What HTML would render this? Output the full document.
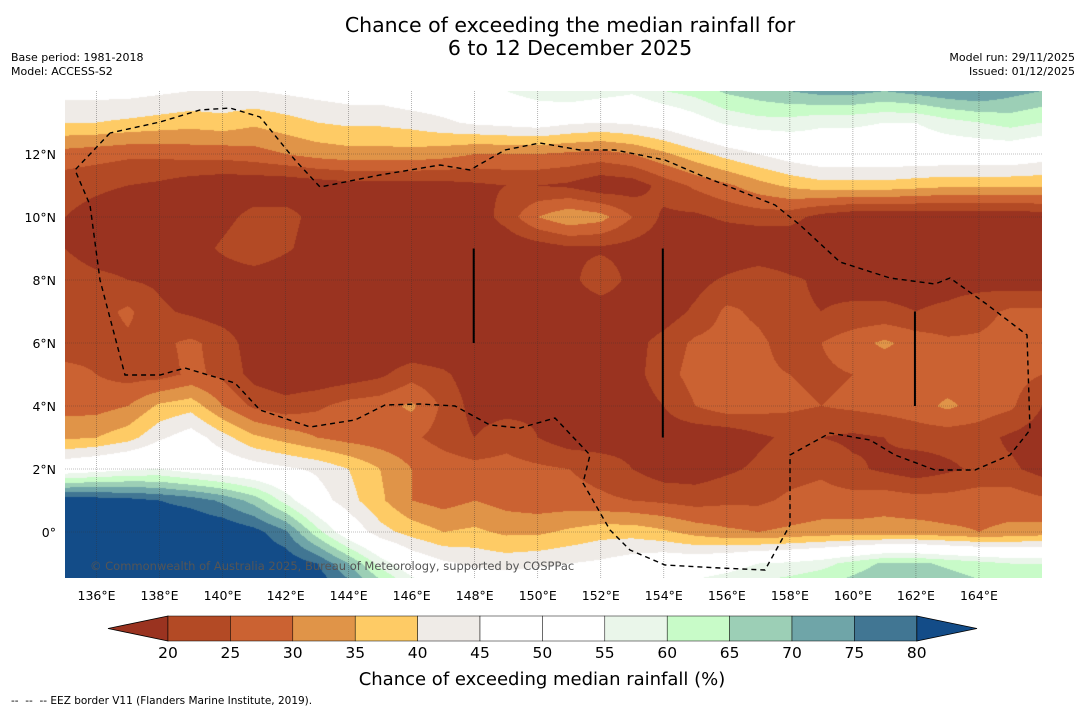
<!DOCTYPE html>
<html><head><meta charset="utf-8">
<style>
body{margin:0;background:#fff;width:1085px;height:713px;overflow:hidden;font-family:"DejaVu Sans","Liberation Sans",sans-serif;position:relative}
.t{position:absolute;white-space:nowrap}
svg text{font-family:"DejaVu Sans","Liberation Sans",sans-serif}
</style></head><body>
<div class="t" style="left:0;width:1140px;top:14px;text-align:center;font-size:20.5px;line-height:23px;color:#000">Chance of exceeding the median rainfall for<br>6 to 12 December 2025</div>
<div class="t" style="left:11px;top:51px;font-size:11px;line-height:14px">Base period: 1981-2018<br>Model: ACCESS-S2</div>
<div class="t" style="right:10px;top:51px;font-size:11px;line-height:14px;text-align:right">Model run: 29/11/2025<br>Issued: 01/12/2025</div>
<canvas id="map" width="977" height="487" style="position:absolute;left:65px;top:91px"></canvas>
<svg id="ov" width="1085" height="713" style="position:absolute;left:0;top:0"></svg>
<div class="t" style="left:11px;top:695px;font-size:10.5px">--&nbsp; --&nbsp; -- EEZ border V11 (Flanders Marine Institute, 2019).</div>
<script>
const lons=[135,136,137,138,139,140,141,142,143,144,145,146,147,148,149,150,151,152,153,154,155,156,157,158,159,160,161,162,163,164,165,166];
const lats=[14,13,12,11,10,9,8,7,6,5,4,3,2,1,0,-1,-2];
const r14=[47,47,47,46,45,45,45,46,47,48,48,50,50,52,55,58,60,58,56,60,62,66,68,70,72,72,70,72,74,75,72,70];
const r13=[40,40,39,38,37,38,36,38,40,41,41,42,44,46,47,48,46,45,46,48,52,56,58,58,56,56,55,55,58,60,62,60];
const r12=[28,27,26,26,27,27,28,30,32,33,33,33,32,30,30,30,29,28,30,34,38,42,45,48,50,50,50,50,50,50,50,48];
const r11=[22,21,20,19,17,16,16,16,17,18,18,18,18,19,20,20,19,16,17,22,26,29,33,36,38,38,38,37,36,36,36,36];
const r10=[20,18,16,16,16,18,22,22,18,16,16,16,16,17,22,30,34,32,25,19,19,21,22,22,18,16,16,16,16,16,16,17];
const r9=[20,18,18,16,17,21,25,21,17,15,15,15,16,16,16,17,19,19,18,17,16,15,15,15,15,15,15,15,15,15,15,16];
const r8=[22,21,20,19,17,16,16,15,15,15,15,15,15,16,16,17,18,24,18,17,18,21,24,21,19,18,18,18,18,18,17,17];
const r7=[22,23,26,21,19,17,16,15,15,15,15,15,15,15,16,16,16,16,16,17,21,26,24,21,20,21,21,20,21,23,26,26];
const r6=[22,23,24,24,26,23,17,15,15,15,15,15,15,15,15,15,15,16,18,22,26,27,26,23,25,28,31,28,26,26,27,27];
const r5=[27,25,23,23,26,24,18,16,16,17,19,23,21,17,17,18,17,16,18,23,27,28,26,25,24,25,26,26,27,29,27,25];
const r4=[28,28,30,36,38,30,24,22,24,27,28,31,24,18,18,19,17,16,17,20,25,28,27,26,25,26,27,28,31,28,26,20];
const r3=[34,35,38,44,48,42,36,33,30,28,27,26,23,20,23,20,17,17,18,17,16,16,19,21,20,19,20,22,22,22,19,17];
const r2=[50,52,54,55,52,50,48,46,44,40,35,30,28,27,27,26,25,23,20,17,17,19,21,23,24,21,19,17,19,21,21,18];
const r1=[84,83,82,80,78,74,68,58,48,42,36,30,28,30,28,27,27,26,25,24,23,24,24,26,27,27,28,27,27,28,28,26];
const r0=[86,86,86,86,86,85,82,76,62,50,42,38,35,36,34,34,36,38,38,36,33,31,30,31,32,32,32,32,31,30,31,32];
const rm1=[86,86,86,86,86,86,85,84,80,70,58,50,46,44,43,44,45,46,48,50,50,52,55,56,58,62,66,66,64,62,60,60];
const rm2=[86,86,86,86,86,86,86,86,86,80,72,62,56,52,52,52,54,55,56,58,60,62,64,66,68,70,72,72,70,68,66,66];
const grid=[r14,r13,r12,r11,r10,r9,r8,r7,r6,r5,r4,r3,r2,r1,r0,rm1,rm2];
const levels=[20,25,30,35,40,45,50,55,60,65,70,75,80];
const colors=["#9a3320","#b34a25","#cb6232","#e09448","#fecb65","#efebe7","#ffffff","#ffffff","#eaf6ea","#c8fbc8","#9ccfb6","#6fa5a8","#417693","#134c88"];
const lonTicks=[136,138,140,142,144,146,148,150,152,154,156,158,160,162,164];
const latTicks=[12,10,8,6,4,2,0];
const latTickLabels=["12°N","10°N","8°N","6°N","4°N","2°N","0°"];

const X0=65,Y0=91,W=977,H=487;
const lonMin=135,lonMax=166,latMax=14,latMin=-1.46;
const xOf=lon=>X0+(lon-lonMin)/(lonMax-lonMin)*W;
const yOf=lat=>Y0+(latMax-lat)/(latMax-latMin)*H;
function colIdx(v){let i=0;while(i<levels.length&&v>=levels[i])i++;return i;}
function hex(c){return [parseInt(c.slice(1,3),16),parseInt(c.slice(3,5),16),parseInt(c.slice(5,7),16)];}
const rgb=colors.map(hex);
function val(lon,lat){
  let fx=(lon-lons[0]),fy=(lats[0]-lat);
  fx=Math.max(0,Math.min(lons.length-1.001,fx));fy=Math.max(0,Math.min(lats.length-1.001,fy));
  const i=Math.floor(fx),j=Math.floor(fy),a=fx-i,b=fy-j;
  const g=grid;
  return (g[j][i]*(1-a)+g[j][i+1]*a)*(1-b)+(g[j+1][i]*(1-a)+g[j+1][i+1]*a)*b;
}
const cv=document.getElementById('map'),ctx=cv.getContext('2d');
const img=ctx.createImageData(W,H);
for(let py=0;py<H;py++){const lat=latMax-(py+0.5)/H*(latMax-latMin);
  for(let px=0;px<W;px++){const lon=lonMin+(px+0.5)/W*(lonMax-lonMin);
    const c=rgb[colIdx(val(lon,lat))];const k=(py*W+px)*4;
    img.data[k]=c[0];img.data[k+1]=c[1];img.data[k+2]=c[2];img.data[k+3]=255;}}
ctx.putImageData(img,0,0);

const NS='http://www.w3.org/2000/svg',ov=document.getElementById('ov');
function mk(tag,attrs,parent){const e=document.createElementNS(NS,tag);for(const k in attrs)e.setAttribute(k,attrs[k]);(parent||ov).appendChild(e);return e;}
lonTicks.forEach(l=>{const x=xOf(l);
  const g=mk('line',{x1:x,x2:x,y1:Y0,y2:Y0+H,stroke:'#333','stroke-width':0.6,'stroke-dasharray':'1,1',opacity:0.6});
  
  
  const t=mk('text',{x:x,y:600,'text-anchor':'middle','font-size':12.5,fill:'#000'});t.textContent=l+'°E';
  
  
});
latTicks.forEach((l,i)=>{const y=yOf(l);
  const g=mk('line',{x1:X0,x2:X0+W,y1:y,y2:y,stroke:'#333','stroke-width':0.6,'stroke-dasharray':'1,1',opacity:0.6});
  
  
  const t=mk('text',{x:56,y:y+5,'text-anchor':'end','font-size':12.5,fill:'#000'});t.textContent=latTickLabels[i];
  
  
});
[[148,9,6],[154,9,3],[162,7,4]].forEach(s=>{const l=mk('line',{x1:xOf(s[0])-1,x2:xOf(s[0])-1,y1:yOf(s[1]),y2:yOf(s[2]),stroke:'#000','stroke-width':2});
  
  });
const eez=mk('path',{d:'M110,133 L75,170 L90,205 L100,280 L125,375 L160,375 L185,368 L235,383 L260,410 L310,427 L355,420 L385,405 L420,404 L455,406 L490,425 L520,428 L555,418 L590,455 L583,483 L610,530 L630,550 L665,565 L720,568 L765,570 L790,525 L790,455 L830,433 L870,440 L895,455 L935,470 L975,470 L1010,455 L1030,430 L1027,335 L985,303 L950,278 L935,284 L890,278 L840,262 L800,225 L775,205 L700,175 L665,160 L615,150 L580,150 L540,143 L505,150 L470,170 L440,165 L380,175 L320,187 L295,160 L260,117 L230,108 L200,110 L160,122 L110,133',fill:'none',stroke:'#000','stroke-width':1.4,'stroke-dasharray':'5,4'});


const cr=mk('text',{x:90,y:570,'font-size':11.5,fill:'#555'});cr.textContent='© Commonwealth of Australia 2025, Bureau of Meteorology, supported by COSPPac';


const cbX=168,cbW=62.4,cbY=616,cbH=25;
mk('polygon',{points:`${cbX},${cbY} 108,${cbY+cbH/2} ${cbX},${cbY+cbH}`,fill:colors[0],stroke:'#000','stroke-width':0.8});
for(let i=0;i<12;i++){const r=mk('rect',{x:cbX+i*cbW,y:cbY,width:cbW,height:cbH,fill:colors[i+1],stroke:'#000','stroke-width':0.5});
  
  }
mk('polygon',{points:`${cbX+12*cbW},${cbY} 977,${cbY+cbH/2} ${cbX+12*cbW},${cbY+cbH}`,fill:colors[13],stroke:'#000','stroke-width':0.8});
levels.forEach((v,i)=>{const t=mk('text',{x:cbX+i*cbW,y:658,'text-anchor':'middle','font-size':15.5});t.textContent=v;
  
  });
const ct=mk('text',{x:542,y:685,'text-anchor':'middle','font-size':18});ct.textContent='Chance of exceeding median rainfall (%)';


</script>
</body></html>
